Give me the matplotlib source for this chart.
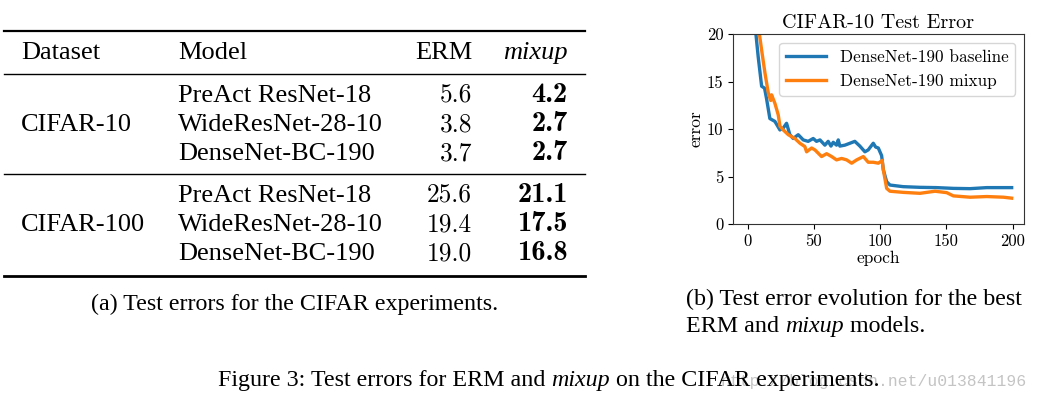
import matplotlib
matplotlib.use("Agg")
import matplotlib.pyplot as plt
from matplotlib.lines import Line2D

# ---------------- data ----------------
datasets = ["CIFAR-10", "CIFAR-100"]
models = ["PreAct ResNet-18", "WideResNet-28-10", "DenseNet-BC-190"]
erm_c10 = ["5.6", "3.8", "3.7"]
mixup_c10 = ["4.2", "2.7", "2.7"]
erm_c100 = ["25.6", "19.4", "19.0"]
mixup_c100 = ["21.1", "17.5", "16.8"]

base_epochs = [0, 2, 4, 6, 8, 10.6, 12.8, 14.3, 16.8, 20.6, 24.4, 26.9, 29.4, 31.9, 34.4,
               38.2, 42, 45.7, 49.5, 52, 54.6, 58.3, 60.8, 62.9, 64.6, 67.1, 68.4, 69.6,
               73.4, 77.2, 80.9, 84.7, 88.5, 91, 94.8, 96.6, 98.6, 101.1, 102.4, 104.9,
               107.4, 117.4, 130, 142.6, 155.2, 167.8, 180.4, 199.2]
base_error = [60, 38, 26, 20.4, 17.6, 14.5, 14.3, 13.2, 11.1, 10.8, 9.9, 10.1, 10.6, 9.4, 9.0,
              9.4, 8.85, 8.7, 9.0, 8.7, 8.85, 8.3, 8.7, 8.2, 8.6, 8.3, 8.85, 8.2,
              8.3, 8.5, 8.7, 8.2, 7.6, 7.8, 8.5, 8.1, 8.0, 7.2, 5.7, 4.45,
              4.1, 3.93, 3.86, 3.83, 3.75, 3.72, 3.83, 3.83]

mix_epochs = [0, 2, 4, 6, 8.5, 10.6, 13.1, 15.6, 17.4, 18.1, 20.6, 23.1, 24.4, 26.9, 30.7,
              35.7, 39.5, 43.2, 44.5, 48.3, 50.8, 55.8, 59.6, 63.4, 67.1, 70.9, 74.7,
              78.5, 82.3, 87.3, 91, 94.8, 98.6, 100.6, 101.5, 102.4, 104.9, 107.4, 117.4,
              130, 141.4, 150.2, 155.2, 167.8, 180.4, 193, 199.2]
mix_error = [70, 45, 32, 24, 20.4, 18.3, 15.9, 13.8, 13.0, 13.6, 12.7, 11.5, 10.3, 9.9, 9.4,
             9.0, 8.5, 8.15, 7.6, 8.0, 7.8, 7.1, 7.4, 7.1, 6.75, 6.9, 6.75,
             6.4, 6.75, 7.1, 6.5, 6.5, 6.4, 6.6, 6.7, 5.7, 3.75, 3.45, 3.33,
             3.23, 3.45, 3.3, 2.96, 2.82, 2.89, 2.82, 2.72]

# ---------------- figure ----------------
W, H = 1039, 399
fig = plt.figure(figsize=(W / 100, H / 100), dpi=100)
fig.patch.set_facecolor("white")

def fx(px):
    return px / W

def fy(py):
    return 1 - py / H

TIMES = "Liberation Serif"
tsize = 19
nsize = 18.3

# table rules
def rule(y, lw):
    fig.add_artist(Line2D([fx(4), fx(585)], [fy(y), fy(y)], color="black", lw=lw,
                          transform=fig.transFigure))

rule(31, 1.6)
rule(74, 1.0)
rule(174, 1.0)
rule(276, 2.0)

# header
hb = 59
fig.text(fx(21), fy(hb), "Dataset", family=TIMES, size=tsize, va="baseline")
fig.text(fx(178), fy(hb), "Model", family=TIMES, size=tsize, va="baseline")
fig.text(fx(472), fy(hb), "ERM", family=TIMES, size=tsize, va="baseline", ha="right")
fig.text(fx(568), fy(hb), "mixup", family=TIMES, size=tsize, va="baseline", ha="right",
         style="italic")

groups = [(datasets[0], erm_c10, mixup_c10, [101.5, 131, 160.5]),
          (datasets[1], erm_c100, mixup_c100, [201.5, 231, 260.5])]
for name, erm, mix, bls in groups:
    fig.text(fx(21), fy(bls[1]), name, family=TIMES, size=tsize, va="baseline")
    for m, e, x, b in zip(models, erm, mix, bls):
        fig.text(fx(178), fy(b), m, family=TIMES, size=tsize, va="baseline")
        fig.text(fx(472), fy(b), e, family="cmr10", size=nsize, va="baseline", ha="right")
        fig.text(fx(568), fy(b), x, family="cmb10", size=20.5, va="baseline", ha="right")

csize = 17.3
fig.text(fx(295), fy(310), "(a) Test errors for the CIFAR experiments.", family=TIMES,
         size=csize, va="baseline", ha="center")
fig.text(fx(686), fy(305), "(b) Test error evolution for the best", family=TIMES,
         size=csize, va="baseline")
t1 = fig.text(fx(686), fy(332), "ERM and ", family=TIMES, size=csize, va="baseline")
fig.canvas.draw()
r = fig.canvas.get_renderer()
bb = t1.get_window_extent(r)
t2 = fig.text(bb.x1 / W, fy(332), "mixup", family=TIMES, size=csize, va="baseline",
              style="italic")
bb2 = t2.get_window_extent(r)
fig.text(bb2.x1 / W, fy(332), " models.", family=TIMES, size=csize, va="baseline")

# watermark (behind)
fig.text(fx(1027), fy(386), "http://blog.csdn.net/u013841196", family="Liberation Mono",
         size=11.8, color="#c4c4c4", va="baseline", ha="right", zorder=0)

s1 = fig.text(fx(218), fy(386), "Figure 3: Test errors for ERM and ", family=TIMES,
              size=csize, va="baseline", zorder=2)
bb = s1.get_window_extent(r)
s2 = fig.text(bb.x1 / W, fy(386), "mixup", family=TIMES, size=csize, va="baseline",
              style="italic", zorder=2)
bb2 = s2.get_window_extent(r)
fig.text(bb2.x1 / W, fy(386), " on the CIFAR experiments.", family=TIMES, size=csize,
         va="baseline", zorder=2)

# ---------------- chart ----------------
CM = "cmr10"
ax = fig.add_axes([fx(733), fy(224), fx(1024) - fx(733), fy(34) - fy(224)])
ax.plot(base_epochs, base_error, color="#1f77b4", lw=2.4, label="DenseNet-190 baseline")
ax.plot(mix_epochs, mix_error, color="#ff7f0e", lw=2.4, label="DenseNet-190 mixup")
ax.set_ylim(0, 20)
ax.set_xlim(-11, 208.5)
ax.set_xticks([0, 50, 100, 150, 200])
ax.set_yticks([0, 5, 10, 15, 20])
for lab in ax.get_xticklabels() + ax.get_yticklabels():
    lab.set_family(CM)
    lab.set_fontsize(12)
ax.set_xlabel("epoch", family=CM, size=12.5, labelpad=1)
ax.set_ylabel("error", family=CM, size=12.5, labelpad=2)
ax.set_title("CIFAR-10 Test Error", family=CM, size=14.5, pad=4)
leg = ax.legend(loc="upper right", prop={"family": CM, "size": 12.4}, handlelength=2.3,
                framealpha=0.8)
for sp in ax.spines.values():
    sp.set_color("#333333")

fig.savefig("out.png", dpi=100)
